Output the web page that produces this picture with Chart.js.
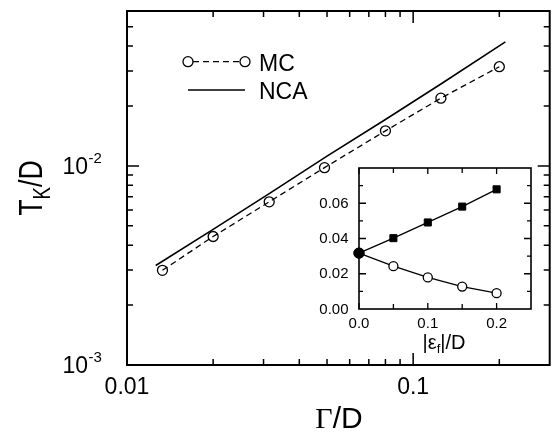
<!DOCTYPE html>
<html>
<head>
<meta charset="utf-8">
<script src="https://cdn.jsdelivr.net/npm/chart.js@4.4.0/dist/chart.umd.min.js"></script>
<style>
  body { margin: 0; background: #fff; }
  #wrap { position: relative; width: 556px; height: 434px; }
  #mainChart { position: absolute; left: 0; top: 0; }
  #insetChart { position: absolute; left: 300px; top: 160px; }
</style>
</head>
<body>
<div id="wrap">
  <canvas id="mainChart" width="556" height="434"></canvas>
  <canvas id="insetChart" width="240" height="205"></canvas>
</div>
<script>
// main panel: T_K/D versus Gamma/D (log-log)
const mcGamma = [0.0133, 0.02, 0.0314, 0.049, 0.08, 0.125, 0.2];
const mcTk = [0.00299, 0.00442, 0.0066, 0.0098, 0.015, 0.0219, 0.0315];
const ncaGamma = [0.0126, 0.02, 0.0316, 0.05, 0.08, 0.125, 0.21];
const ncaTk = [0.00316, 0.0048, 0.0073, 0.0112, 0.0171, 0.0258, 0.042];
const gammaTicks = [0.01, 0.1];
const gammaLabels = ['0.01', '0.1'];
const gammaMinor = [0.02, 0.03, 0.04, 0.05, 0.06, 0.07, 0.08, 0.09, 0.2];
const tkTicks = [0.001, 0.01];
const tkExponents = ['-3', '-2'];
const tkMinor = [0.002, 0.003, 0.004, 0.005, 0.006, 0.007, 0.008, 0.009, 0.02, 0.03, 0.04, 0.05];

// inset: T_K/D versus |eps_f|/D
const insetEps = [0, 0.05, 0.1, 0.15, 0.2];
const insetUpper = [0.0317, 0.0402, 0.0491, 0.0581, 0.0679];
const insetLower = [0.0317, 0.0243, 0.0179, 0.0127, 0.009];
const insetXTicks = [0, 0.1, 0.2];
const insetXLabels = ['0.0', '0.1', '0.2'];
const insetXMinor = [0.05, 0.15];
const insetYTicks = [0.02, 0.04, 0.06];
const insetYLabels = ['0.00', '0.02', '0.04', '0.06'];
const insetYLabelValues = [0, 0.02, 0.04, 0.06];
const insetYMinor = [0.01, 0.03, 0.05, 0.07];

const SANS = '"Liberation Sans", Arial, sans-serif';
const SERIF = '"Liberation Serif", "Times New Roman", serif';

function toPoints(xs, ys) {
  return xs.map((x, i) => ({ x: x, y: ys[i] }));
}

// inward tick marks on all four sides
function drawTicks(chart, xList, yList, width) {
  const { ctx, chartArea: a, scales } = chart;
  ctx.save();
  ctx.strokeStyle = '#000';
  ctx.lineWidth = width;
  ctx.beginPath();
  xList.forEach(([v, len]) => {
    const px = scales.x.getPixelForValue(v);
    ctx.moveTo(px, a.bottom);
    ctx.lineTo(px, a.bottom - len);
    ctx.moveTo(px, a.top);
    ctx.lineTo(px, a.top + len);
  });
  yList.forEach(([v, len]) => {
    const py = scales.y.getPixelForValue(v);
    ctx.moveTo(a.left, py);
    ctx.lineTo(a.left + len, py);
    ctx.moveTo(a.right, py);
    ctx.lineTo(a.right - len, py);
  });
  ctx.stroke();
  ctx.restore();
}

function drawFrame(chart, width) {
  const { ctx, chartArea: a } = chart;
  ctx.save();
  ctx.strokeStyle = '#000';
  ctx.lineWidth = width;
  ctx.strokeRect(a.left, a.top, a.right - a.left, a.bottom - a.top);
  ctx.restore();
}

const mainDecor = {
  id: 'mainDecor',
  afterDraw(chart) {
    const { ctx, chartArea: a, scales } = chart;
    const xt = gammaTicks.map((v) => [v, 12]).concat(gammaMinor.map((v) => [v, 6]));
    const yt = tkTicks.map((v) => [v, 12]).concat(tkMinor.map((v) => [v, 6]));
    drawTicks(chart, xt, yt, 1.5);
    drawFrame(chart, 2);

    ctx.save();
    ctx.fillStyle = '#000';
    // x tick labels
    ctx.font = '23px ' + SANS;
    ctx.textAlign = 'center';
    ctx.textBaseline = 'alphabetic';
    gammaTicks.forEach((v, i) => {
      ctx.fillText(gammaLabels[i], scales.x.getPixelForValue(v), 394);
    });
    // y tick labels 10^n
    tkTicks.forEach((v, i) => {
      const py = scales.y.getPixelForValue(v);
      ctx.font = '23px ' + SANS;
      ctx.textAlign = 'right';
      ctx.fillText('10', 88, py + 8.3);
      ctx.font = '15px ' + SANS;
      ctx.textAlign = 'left';
      ctx.fillText(tkExponents[i], 88.5, py - 3.3);
    });

    // x title: Gamma/D
    ctx.font = '30px ' + SERIF;
    const wG = ctx.measureText('\u0393').width;
    ctx.font = '30px ' + SANS;
    const wD = ctx.measureText('/D').width;
    let x0 = 339 - (wG + wD) / 2;
    ctx.textAlign = 'left';
    ctx.font = '30px ' + SERIF;
    ctx.fillText('\u0393', x0, 428);
    ctx.font = '30px ' + SANS;
    ctx.fillText('/D', x0 + wG, 428);

    // y title: T_K/D
    ctx.save();
    ctx.translate(41.7, (a.top + a.bottom) / 2);
    ctx.rotate(-Math.PI / 2);
    ctx.scale(0.78, 1);
    ctx.font = '34px ' + SANS;
    const wT = ctx.measureText('T').width;
    const wR = ctx.measureText('/D').width;
    ctx.font = '24px ' + SANS;
    const wK = ctx.measureText('K').width;
    let s = -(wT + wK + wR) / 2;
    ctx.font = '34px ' + SANS;
    ctx.fillText('T', s, 0);
    ctx.font = '24px ' + SANS;
    ctx.fillText('K', s + wT, 8);
    ctx.font = '34px ' + SANS;
    ctx.fillText('/D', s + wT + wK, 0);
    ctx.restore();

    // legend
    ctx.strokeStyle = '#000';
    ctx.lineWidth = 1.3;
    ctx.setLineDash([6, 4]);
    ctx.beginPath();
    ctx.moveTo(193, 61.7);
    ctx.lineTo(240, 61.7);
    ctx.stroke();
    ctx.setLineDash([]);
    [188, 245].forEach((cx) => {
      ctx.beginPath();
      ctx.arc(cx, 61.7, 5, 0, Math.PI * 2);
      ctx.stroke();
    });
    ctx.lineWidth = 1.6;
    ctx.beginPath();
    ctx.moveTo(188, 90);
    ctx.lineTo(245, 90);
    ctx.stroke();
    ctx.font = '23px ' + SANS;
    ctx.textAlign = 'left';
    ctx.fillText('MC', 259, 70.7);
    ctx.fillText('NCA', 259, 99.3);
    ctx.restore();
  }
};

new Chart(document.getElementById('mainChart'), {
  type: 'line',
  data: {
    datasets: [
      {
        label: 'MC',
        data: toPoints(mcGamma, mcTk),
        borderColor: '#000',
        borderWidth: 1.3,
        borderDash: [6, 4],
        pointStyle: 'circle',
        pointRadius: 5,
        pointBorderWidth: 1.3,
        pointBorderColor: '#000',
        pointBackgroundColor: 'rgba(0,0,0,0)',
        tension: 0,
        clip: false,
      },
      {
        label: 'NCA',
        data: toPoints(ncaGamma, ncaTk),
        borderColor: '#000',
        borderWidth: 1.6,
        pointRadius: 0,
        tension: 0,
        clip: false,
      },
    ],
  },
  options: {
    responsive: false,
    animation: false,
    events: [],
    layout: { padding: { left: 127, top: 11, right: 1, bottom: 69 } },
    scales: {
      x: { type: 'logarithmic', min: 0.01, max: 0.3, display: false },
      y: { type: 'logarithmic', min: 0.001, max: 0.06, display: false },
    },
    plugins: { legend: { display: false }, tooltip: { enabled: false } },
  },
  plugins: [mainDecor],
});

const insetDecor = {
  id: 'insetDecor',
  beforeDraw(chart) {
    const { ctx, chartArea: a } = chart;
    ctx.save();
    ctx.fillStyle = '#fff';
    ctx.fillRect(a.left, a.top, a.right - a.left, a.bottom - a.top);
    ctx.restore();
  },
  afterDraw(chart) {
    const { ctx, chartArea: a, scales } = chart;
    const xt = insetXTicks.map((v) => [v, 6]).concat(insetXMinor.map((v) => [v, 5]));
    const yt = insetYTicks.map((v) => [v, 7]).concat(insetYMinor.map((v) => [v, 4]));
    drawTicks(chart, xt, yt, 1.3);
    drawFrame(chart, 1.6);

    ctx.save();
    ctx.fillStyle = '#000';
    ctx.font = '15px ' + SANS;
    ctx.textAlign = 'center';
    ctx.textBaseline = 'alphabetic';
    insetXTicks.forEach((v, i) => {
      ctx.fillText(insetXLabels[i], scales.x.getPixelForValue(v), 168.3);
    });
    ctx.textAlign = 'right';
    ctx.textBaseline = 'middle';
    insetYLabelValues.forEach((v, i) => {
      ctx.fillText(insetYLabels[i], 48.5, scales.y.getPixelForValue(v) + 0.5);
    });

    // x title |eps_f|/D
    ctx.textBaseline = 'alphabetic';
    ctx.textAlign = 'left';
    ctx.font = '20px ' + SANS;
    const w1 = ctx.measureText('|\u03b5').width;
    const w3 = ctx.measureText('|/D').width;
    ctx.font = '13px ' + SANS;
    const w2 = ctx.measureText('f').width;
    let s = 144 - (w1 + w2 + w3) / 2;
    ctx.font = '20px ' + SANS;
    ctx.fillText('|\u03b5', s, 189);
    ctx.font = '13px ' + SANS;
    ctx.fillText('f', s + w1, 193);
    ctx.font = '20px ' + SANS;
    ctx.fillText('|/D', s + w1 + w2, 189);
    ctx.restore();
  }
};

new Chart(document.getElementById('insetChart'), {
  type: 'line',
  data: {
    datasets: [
      {
        label: 'upper',
        data: toPoints(insetEps, insetUpper),
        borderColor: '#000',
        borderWidth: 1.3,
        pointStyle: ['circle', 'rect', 'rect', 'rect', 'rect'],
        pointRadius: 5,
        pointBorderWidth: 1,
        pointBorderColor: '#000',
        pointBackgroundColor: '#000',
        tension: 0,
        clip: false,
      },
      {
        label: 'lower',
        data: toPoints(insetEps, insetLower),
        borderColor: '#000',
        borderWidth: 1.3,
        pointStyle: 'circle',
        pointRadius: [5, 4.5, 4.5, 4.5, 4.5],
        pointBorderWidth: 1.3,
        pointBorderColor: '#000',
        pointBackgroundColor: ['#000', '#fff', '#fff', '#fff', '#fff'],
        tension: 0,
        clip: false,
      },
    ],
  },
  options: {
    responsive: false,
    animation: false,
    events: [],
    layout: { padding: { left: 59, top: 8, right: 9, bottom: 56 } },
    scales: {
      x: { type: 'linear', min: 0, max: 0.25, display: false },
      y: { type: 'linear', min: 0, max: 0.08, display: false },
    },
    plugins: { legend: { display: false }, tooltip: { enabled: false } },
  },
  plugins: [insetDecor],
});
</script>
</body>
</html>
